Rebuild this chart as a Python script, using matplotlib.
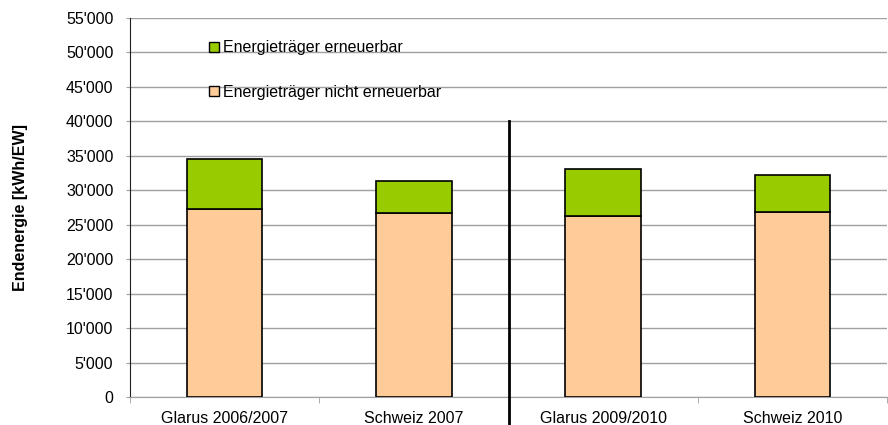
import matplotlib.pyplot as plt
import numpy as np
from matplotlib.patches import Patch, Rectangle
from matplotlib.ticker import FuncFormatter, MultipleLocator

plt.rcParams['font.family'] = ['Liberation Sans', 'DejaVu Sans']

categories = ['Glarus 2006/2007', 'Schweiz 2007', 'Glarus 2009/2010', 'Schweiz 2010']
nicht_erneuerbar = [27300, 26700, 26300, 26850]
erneuerbar = [7250, 4650, 6800, 5350]
labels = ['Energieträger erneuerbar', 'Energieträger nicht erneuerbar']

green = '#99CC00'
orange = '#FFCC99'
grid_grey = '#a0a0a0'

fig = plt.figure(figsize=(8.88, 4.25), dpi=100)
ax = fig.add_axes([130 / 888, 1 - 397 / 425, 757 / 888, 379 / 425])

x = np.arange(len(categories))
ax.bar(x, nicht_erneuerbar, width=0.4, color=orange, edgecolor='black', linewidth=1.2, zorder=3)
ax.bar(x, erneuerbar, width=0.4, bottom=nicht_erneuerbar, color=green,
       edgecolor='black', linewidth=1.2, zorder=3)

ax.set_xlim(-0.5, len(categories) - 0.5)
ax.set_ylim(0, 55000)
ax.yaxis.set_major_locator(MultipleLocator(5000))
ax.yaxis.set_major_formatter(FuncFormatter(lambda v, p: f"{int(v):,}".replace(',', "'")))
ax.grid(axis='y', color=grid_grey, linewidth=1, zorder=0)

ax.set_xticks(x)
ax.set_xticklabels(categories)
ax.set_xticks(np.arange(len(categories) + 1) - 0.5, minor=True)
ax.tick_params(axis='x', which='major', length=0, labelsize=11.5, pad=10)
ax.tick_params(axis='x', which='minor', length=4, color=grid_grey, direction='out')
ax.tick_params(axis='y', length=3, color=grid_grey, labelsize=11.5, pad=9)

for s in ['top', 'right']:
    ax.spines[s].set_visible(False)
ax.spines['left'].set_color('#202020')
ax.spines['bottom'].set_color(grid_grey)

ax.set_ylabel('Endenergie [kWh/EW]', fontsize=11.5, fontweight='bold', labelpad=27)

# separator between the two periods
ax.plot([1.5, 1.5], [-4000, 40000], color='black', linewidth=2, clip_on=False, zorder=4)

# white area behind the legend hides the gridlines
ax.add_patch(Rectangle((24 / 757, 282 / 379), 355 / 757, 90 / 379,
                       transform=ax.transAxes, facecolor='white', edgecolor='none', zorder=1))

handles = [Patch(facecolor=green, edgecolor='black', linewidth=1),
           Patch(facecolor=orange, edgecolor='black', linewidth=1)]
ax.legend(handles, labels, loc='center left', bbox_to_anchor=(79 / 757, 327 / 379),
          frameon=False, fontsize=11.5, handlelength=0.6, handleheight=0.6,
          handletextpad=0.3, labelspacing=1.85, borderpad=0, borderaxespad=0)

fig.savefig('out.png', dpi=100)
